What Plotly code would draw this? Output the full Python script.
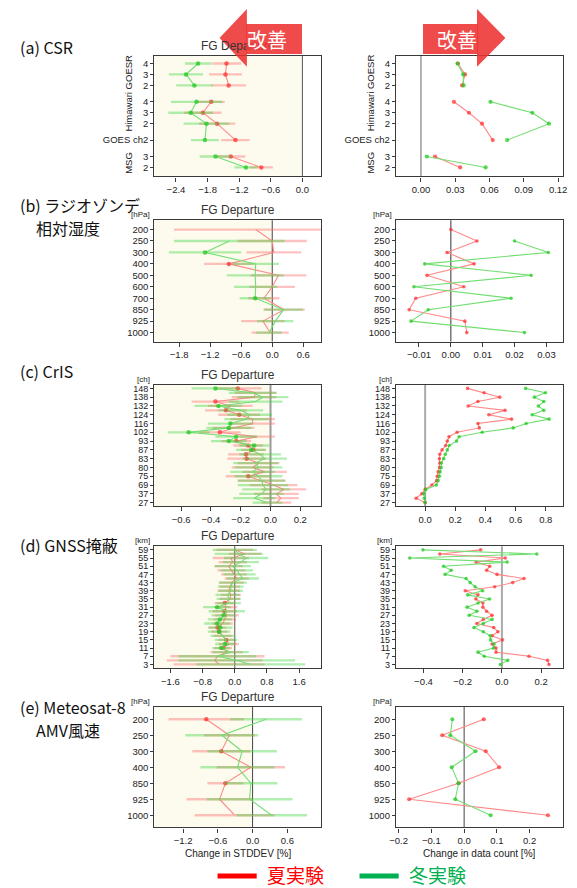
import plotly.graph_objects as go

W, H = 577, 888

# ---------------- data (listed top row to bottom row) ----------------
SUMMER_NAME = "夏実験"
WINTER_NAME = "冬実験"

# (a) CSR
CSR_GROUP = ["GOESR", "GOESR", "GOESR", "Himawari", "Himawari", "Himawari", "GOES", "MSG", "MSG"]
CSR_LABEL = ["4", "3", "2", "4", "3", "2", "GOES ch2", "3", "2"]
CSR_LINE = [0, 0, 0, 1, 1, 1, 1, 2, 2]
CSR_STD_S = [-1.44, -1.46, -1.40, -1.73, -1.89, -1.62, -1.27, -1.36, -0.78]
CSR_ERR_S = [0.28, 0.31, 0.33, 0.255, 0.355, 0.345, 0.27, 0.275, 0.22]
CSR_STD_W = [-1.98, -2.21, -2.05, -2.01, -2.12, -1.82, -1.85, -1.65, -1.07]
CSR_ERR_W = [0.25, 0.325, 0.345, 0.485, 0.425, 0.435, 0.265, 0.30, 0.22]
CSR_SIG_S = [1, 1, 1, 1, 1, 1, 1, 1, 1]
CSR_SIG_W = [1, 1, 1, 1, 1, 1, 1, 1, 1]
CSR_CNT_S = [0.0323, 0.0386, 0.0360, 0.0288, 0.0420, 0.0534, 0.0628, 0.0123, 0.0343]
CSR_CNT_W = [0.0320, 0.0369, 0.0374, 0.0608, 0.0974, 0.1120, 0.0754, 0.0051, 0.0566]

# (b) radiosonde relative humidity
RH_LEVEL = ["200", "250", "300", "400", "500", "600", "700", "850", "925", "1000"]
RH_STD_S = [-0.32, 0.00, 0.03, -0.84, 0.12, 0.00, -0.16, 0.23, -0.18, -0.04]
RH_ERR_S = [1.58, 0.67, 0.53, 0.48, 0.54, 0.44, 0.30, 0.40, 0.42, 0.36]
RH_STD_W = [None, -0.83, -1.30, -0.32, -0.33, -0.32, -0.33, 0.22, 0.06, -0.06]
RH_ERR_W = [0.0, 1.07, 0.70, 0.45, 0.55, 0.42, 0.30, 0.37, 0.35, 0.25]
RH_SIG_S = [0, 0, 0, 1, 0, 0, 0, 0, 0, 0]
RH_SIG_W = [0, 0, 1, 0, 0, 0, 1, 0, 0, 0]
RH_CNT_S = [0.0000, 0.0082, -0.0012, 0.0073, -0.0075, 0.0041, -0.0110, -0.0131, 0.0044, 0.0050]
RH_CNT_W = [None, 0.0200, 0.0306, -0.0082, 0.0252, -0.0116, 0.0189, -0.0071, -0.0125, 0.0231]

# (c) CrIS channels (27 rows, every second one labelled)
CRIS_TICKS = ["148", "138", "132", "124", "116", "102", "93", "87", "83", "80", "75", "69", "37", "27"]
CRIS_STD_S = [-0.22, -0.10, -0.11, -0.37, -0.27, -0.30, -0.21, -0.12, -0.12, -0.25, -0.34, -0.09, -0.23, -0.15,
              -0.115, -0.165, -0.16, -0.08, -0.12, -0.04, -0.15, -0.06, 0.02, 0.09, 0.04, 0.07, 0.04]
CRIS_ERR_S = [0.16, 0.14, 0.15, 0.16, 0.15, 0.14, 0.14, 0.15, 0.15, 0.14, 0.14, 0.12, 0.10, 0.10,
              0.08, 0.12, 0.13, 0.14, 0.14, 0.15, 0.15, 0.16, 0.16, 0.15, 0.15, 0.12, 0.10]
CRIS_STD_W = [-0.37, -0.12, -0.05, -0.10, -0.35, -0.20, -0.14, -0.16, -0.27, -0.28, -0.55, -0.23, -0.28, -0.11,
              -0.13, -0.07, -0.04, -0.10, -0.08, -0.12, -0.08, -0.06, -0.05, -0.03, -0.06, -0.11, -0.02]
CRIS_ERR_W = [0.16, 0.16, 0.17, 0.18, 0.16, 0.15, 0.15, 0.15, 0.15, 0.15, 0.14, 0.14, 0.12, 0.10,
              0.10, 0.14, 0.15, 0.15, 0.16, 0.15, 0.16, 0.16, 0.17, 0.16, 0.15, 0.14, 0.10]
CRIS_SIG_S = [1, 0, 0, 1, 0, 1, 1, 0, 0, 0, 1, 0, 1, 1, 1, 1, 1, 0, 0, 0, 1, 0, 0, 0, 0, 0, 0]
CRIS_SIG_W = [1, 0, 0, 0, 1, 0, 0, 0, 1, 1, 1, 1, 1, 1, 1, 0, 0, 0, 0, 0, 0, 0, 0, 0, 0, 0, 0]
CRIS_CNT_S = [0.281, 0.391, 0.495, 0.350, 0.285, 0.530, 0.422, 0.573, 0.350, 0.359, 0.212, 0.158, 0.147, 0.136,
              0.112, 0.097, 0.095, 0.097, 0.095, 0.086, 0.080, 0.076, 0.045, 0.000, -0.022, -0.060, 0.000]
CRIS_CNT_W = [0.666, 0.798, 0.724, 0.787, 0.750, 0.787, 0.709, 0.822, 0.670, 0.584, 0.378, 0.225, 0.208, 0.160,
              0.147, 0.134, 0.123, 0.108, 0.106, 0.099, 0.095, 0.086, 0.074, 0.004, -0.009, -0.006, 0.000]

# (d) GNSS radio occultation, impact height [km]
GNSS_KM = [str(k) for k in range(59, 2, -2)]
GNSS_STD_S = [0.00, 0.25, -0.10, -0.05, -0.15, -0.08, -0.02, 0.05, -0.08, -0.12, -0.15, -0.10, -0.12, -0.25, -0.22,
              -0.25, -0.20, -0.25, -0.30, -0.43, -0.39, -0.30, -0.21, -0.15, -0.29, -0.20, -0.43, -0.50, -0.39]
GNSS_ERR_S = [0.45, 0.40, 0.45, 0.35, 0.35, 0.35, 0.32, 0.30, 0.30, 0.25, 0.28, 0.25, 0.25, 0.25, 0.28,
              0.30, 0.30, 0.28, 0.25, 0.22, 0.20, 0.22, 0.20, 0.25, 0.22, 0.40, 1.17, 1.19, 1.13]
GNSS_STD_W = [0.00, 0.10, 0.28, 0.15, -0.05, 0.05, 0.12, 0.20, -0.05, -0.10, -0.10, -0.18, -0.15, -0.15, -0.44,
              -0.20, -0.28, -0.37, -0.44, -0.36, -0.39, -0.30, -0.22, -0.24, -0.34, -0.10, -0.43, 0.05, 0.40]
GNSS_ERR_W = [0.55, 0.60, 0.55, 0.45, 0.45, 0.40, 0.40, 0.40, 0.35, 0.32, 0.30, 0.30, 0.30, 0.30, 0.35,
              0.45, 0.30, 0.30, 0.32, 0.30, 0.28, 0.30, 0.28, 0.25, 0.22, 0.45, 0.97, 1.45, 1.35]
GNSS_SIG_S = [0, 0, 0, 0, 0, 0, 0, 0, 0, 0, 0, 0, 0, 1, 0, 1, 0, 0, 0, 1, 1, 0, 1, 0, 1, 0, 0, 0, 0]
GNSS_SIG_W = [0, 0, 0, 0, 0, 0, 0, 0, 0, 0, 0, 0, 0, 0, 1, 0, 1, 1, 1, 1, 1, 0, 0, 1, 1, 0, 0, 0, 0]
GNSS_CNT_S = [-0.108, -0.317, 0.017, -0.132, -0.062, -0.078, -0.025, 0.113, 0.055, -0.037, -0.187, -0.122, -0.133,
              -0.097, -0.097, -0.078, -0.050, -0.095, -0.128, -0.042, -0.020, -0.050, 0.003, -0.050, -0.030, -0.030,
              0.138, 0.233, 0.240]
GNSS_CNT_W = [-0.403, 0.178, -0.470, 0.027, -0.298, -0.258, -0.290, -0.183, -0.162, -0.137, -0.098, -0.175, -0.063,
              -0.122, -0.178, -0.127, -0.167, -0.050, -0.095, -0.143, -0.095, -0.060, -0.058, -0.040, -0.043, -0.122,
              -0.090, 0.030, -0.008]

# (e) Meteosat-8 AMV wind speed
AMV_LEVEL = ["200", "250", "300", "400", "850", "925", "1000"]
AMV_STD_S = [-0.80, -0.40, -0.54, -0.03, -0.47, -0.57, -0.31]
AMV_ERR_S = [0.65, 0.44, 0.50, 0.59, 0.31, 0.57, 0.69]
AMV_STD_W = [0.23, -0.53, -0.18, -0.26, -0.03, -0.05, 0.33]
AMV_ERR_W = [0.62, 0.63, 0.60, 0.64, 0.46, 0.74, 0.61]
AMV_SIG_S = [1, 0, 1, 0, 1, 0, 0]
AMV_SIG_W = [0, 0, 0, 0, 0, 0, 0]
AMV_CNT_S = [0.060, -0.067, 0.066, 0.107, -0.017, -0.168, 0.256]
AMV_CNT_W = [-0.036, -0.042, 0.035, -0.038, -0.017, -0.027, 0.081]

# x-axis ticks for each row
STD_TICKS = [[-2.4, -1.8, -1.2, -0.6, 0.0], [-1.8, -1.2, -0.6, 0.0, 0.6], [-0.6, -0.4, -0.2, 0.0, 0.2],
             [-1.6, -0.8, 0.0, 0.8, 1.6], [-1.2, -0.6, 0.0, 0.6]]
CNT_TICKS = [[0.0, 0.03, 0.06, 0.09, 0.12], [-0.01, 0.0, 0.01, 0.02, 0.03], [0.0, 0.2, 0.4, 0.6, 0.8],
             [-0.4, -0.2, 0.0, 0.2], [-0.2, -0.1, 0.0, 0.1, 0.2]]
CNT_FMT = [".2f", ".2f", ".1f", ".1f", ".1f"]

# ---------------- layout geometry (pixels) ----------------
ROW_FRAME = [(54.7, 176.0), (220.0, 341.7), (385.0, 506.7), (547.0, 669.3), (708.3, 829.3)]
ROW_CENTERS = [(62.7, 167.0), (229.3, 332.7), (388.7, 503.3), (550.7, 665.7), (720.7, 817.0)]
LEFT_X = (150.5, 320.5)
RIGHT_X = (397.3, 567.5)
STD_RANGE = [(-2.81, 0.35), (-2.28, 0.94), (-0.78, 0.338), (-2.0, 2.14), (-1.695, 1.178)]
CNT_RANGE = [(-0.0218, 0.124), (-0.0172, 0.0351), (-0.193, 0.912), (-0.54, 0.31), (-0.208, 0.301)]
ZERO_L = [("#555", 1), ("#444", 1), ("#9a9a9a", 2), ("#555", 1), ("#444", 1)]
ZERO_R = [("#999", 1.5), ("#333", 1), ("#aaa", 2), ("#aaa", 2), ("#444", 1)]
YTICK_SIZE = [9.5, 9.5, 9, 9, 9.5]

RED_LINE, RED_MARK, RED_BAR = "#ff8a8a", "#ff2a2a", "rgba(255,110,110,0.42)"
GRN_LINE, GRN_MARK, GRN_BAR = "#72de72", "#18c818", "rgba(70,215,70,0.42)"
SANS = "Liberation Sans, Arial, sans-serif"
JP_FONT = "Noto Sans CJK JP"


def px(x):
    return x / W


def py(y):
    return 1 - y / H


def axis_names(k):
    suffix = "" if k == 0 else str(k + 1)
    return "x" + suffix, "y" + suffix, "xaxis" + suffix, "yaxis" + suffix


def csr_positions():
    # rows stacked from the bottom, with a wider gap between instrument groups
    pos = [0.0] * len(CSR_GROUP)
    cur = 0.0
    for i in range(len(CSR_GROUP) - 1, -1, -1):
        if i < len(CSR_GROUP) - 1:
            cur += 1.0 if CSR_GROUP[i] == CSR_GROUP[i + 1] else 1.5
        pos[i] = cur
    return pos


fig = go.Figure()
shapes, annotations = [], []


def add_series(k, pos, vals, err, sig, colors, seg=None, marker_size=None):
    line_c, mark_c, bar_c = colors
    xa, ya, _, _ = axis_names(k)
    n = len(vals)
    seg = seg if seg is not None else [0] * n
    order = []
    for s in seg:
        if s not in order:
            order.append(s)
    for s in order:
        idx = [i for i in range(n) if seg[i] == s]
        if marker_size is not None:
            sizes = [marker_size] * len(idx)
        else:
            sizes = [4.5 if sig[i] else 0 for i in idx]
        tr = dict(
            x=[vals[i] for i in idx], y=[pos[i] for i in idx], mode="lines+markers",
            line=dict(color=line_c, width=1.1),
            marker=dict(size=sizes, color=mark_c, line=dict(width=0)),
            xaxis=xa, yaxis=ya, showlegend=False, hoverinfo="skip",
        )
        if err is not None:
            tr["error_x"] = dict(type="data", array=[err[i] for i in idx], color=bar_c,
                                 thickness=2.3, width=0)
        fig.add_trace(go.Scatter(**tr))


def setup_axes(k, xdom, ydom_px, xrange, xticks, xfmt, yrange, ytickvals, yticktext, ysize):
    _, _, xk, yk = axis_names(k)
    xa, ya, _, _ = axis_names(k)
    common = dict(showgrid=False, zeroline=False, showline=True, mirror=True,
                  linecolor="#3a3a3a", linewidth=1.4, ticks="outside", tickcolor="#3a3a3a",
                  fixedrange=True)
    fig.layout[xk] = dict(domain=[px(xdom[0]), px(xdom[1])], range=list(xrange), anchor=ya,
                          tickmode="array", tickvals=xticks, tickformat=xfmt, ticklen=4,
                          tickfont=dict(family=SANS, size=9.5, color="#222"), **common)
    fig.layout[yk] = dict(domain=[py(ydom_px[1]), py(ydom_px[0])], range=list(yrange), anchor=xa,
                          tickmode="array", tickvals=ytickvals, ticktext=yticktext, ticklen=3,
                          tickfont=dict(family=SANS, size=ysize, color="#222"), **common)


def y_range(frame, centers, vtop, vbot):
    unit = (centers[1] - centers[0]) / (vtop - vbot)
    return (vbot - (frame[1] - centers[1]) / unit, vtop + (centers[0] - frame[0]) / unit)


ROWS = [
    dict(pos=csr_positions(), labels=CSR_LABEL, ticks=None, seg=CSR_LINE, unit=None,
         std=(CSR_STD_S, CSR_ERR_S, CSR_SIG_S, CSR_STD_W, CSR_ERR_W, CSR_SIG_W),
         cnt=(CSR_CNT_S, CSR_CNT_W)),
    dict(pos=None, labels=RH_LEVEL, ticks=None, seg=None, unit="[hPa]",
         std=(RH_STD_S, RH_ERR_S, RH_SIG_S, RH_STD_W, RH_ERR_W, RH_SIG_W),
         cnt=(RH_CNT_S, RH_CNT_W)),
    dict(pos=None, labels=None, ticks=CRIS_TICKS, seg=None, unit="[ch]",
         std=(CRIS_STD_S, CRIS_ERR_S, CRIS_SIG_S, CRIS_STD_W, CRIS_ERR_W, CRIS_SIG_W),
         cnt=(CRIS_CNT_S, CRIS_CNT_W)),
    dict(pos=None, labels=GNSS_KM, ticks="every2", seg=None, unit="[km]",
         std=(GNSS_STD_S, GNSS_ERR_S, GNSS_SIG_S, GNSS_STD_W, GNSS_ERR_W, GNSS_SIG_W),
         cnt=(GNSS_CNT_S, GNSS_CNT_W)),
    dict(pos=None, labels=AMV_LEVEL, ticks=None, seg=None, unit="[hPa]",
         std=(AMV_STD_S, AMV_ERR_S, AMV_SIG_S, AMV_STD_W, AMV_ERR_W, AMV_SIG_W),
         cnt=(AMV_CNT_S, AMV_CNT_W)),
]

for r, row in enumerate(ROWS):
    n = len(row["std"][0])
    pos = row["pos"] if row["pos"] is not None else [n - 1 - i for i in range(n)]
    if row["ticks"] is None:
        tv, tt = pos, row["labels"]
    elif row["ticks"] == "every2":
        tv = [pos[i] for i in range(0, n, 2)]
        tt = [row["labels"][i] for i in range(0, n, 2)]
    else:
        tv = [pos[i] for i in range(0, n, 2)]
        tt = row["ticks"]
    yr = y_range(ROW_FRAME[r], ROW_CENTERS[r], max(pos), min(pos))
    kl, kr = 2 * r, 2 * r + 1

    # left: change in STDDEV of first-guess departures
    setup_axes(kl, LEFT_X, ROW_FRAME[r], STD_RANGE[r], STD_TICKS[r], ".1f", yr, tv, tt, YTICK_SIZE[r])
    xa, ya, _, _ = axis_names(kl)
    shapes.append(dict(type="rect", xref=xa, yref=ya + " domain", x0=STD_RANGE[r][0], x1=0, y0=0, y1=1,
                       fillcolor="#fcfbee", line=dict(width=0), layer="below"))
    shapes.append(dict(type="line", xref=xa, yref=ya + " domain", x0=0, x1=0, y0=0, y1=1,
                       line=dict(color=ZERO_L[r][0], width=ZERO_L[r][1]), layer="below"))
    s_v, s_e, s_s, w_v, w_e, w_s = row["std"]
    add_series(kl, pos, s_v, s_e, s_s, (RED_LINE, RED_MARK, RED_BAR), row["seg"])
    add_series(kl, pos, w_v, w_e, w_s, (GRN_LINE, GRN_MARK, GRN_BAR), row["seg"])

    # right: change in data count
    setup_axes(kr, RIGHT_X, ROW_FRAME[r], CNT_RANGE[r], CNT_TICKS[r], CNT_FMT[r], yr, tv, tt, YTICK_SIZE[r])
    xa2, ya2, _, _ = axis_names(kr)
    shapes.append(dict(type="line", xref=xa2, yref=ya2 + " domain", x0=0, x1=0, y0=0, y1=1,
                       line=dict(color=ZERO_R[r][0], width=ZERO_R[r][1]), layer="below"))
    msize = 4.2 if r in (0, 4) else 3.6
    add_series(kr, pos, row["cnt"][0], None, None, (RED_LINE, RED_MARK, RED_BAR), row["seg"], msize)
    add_series(kr, pos, row["cnt"][1], None, None, (GRN_LINE, GRN_MARK, GRN_BAR), row["seg"], msize)

    top = ROW_FRAME[r][0]
    annotations.append(dict(text="FG Departure", x=px(sum(LEFT_X) / 2), y=py(top - 10), xref="paper",
                            yref="paper", showarrow=False, xanchor="center", yanchor="middle",
                            font=dict(family=SANS, size=12, color="#333")))
    if row["unit"]:
        for xl in (LEFT_X[0], RIGHT_X[0]):
            annotations.append(dict(text=row["unit"], x=px(xl - 2), y=py(top + 1), xref="paper", yref="paper",
                                    showarrow=False, xanchor="right", yanchor="bottom",
                                    font=dict(family=SANS, size=8, color="#222")))

# rotated instrument names beside the CSR rows
for xl in (LEFT_X[0], RIGHT_X[0]):
    for txt, yc in (("Himawari GOESR", 92.5), ("MSG", 162.0)):
        annotations.append(dict(text=txt, x=px(xl - 26.5), y=py(yc), xref="paper", yref="paper",
                                showarrow=False, textangle=-90, xanchor="center", yanchor="middle",
                                font=dict(family=SANS, size=9.5, color="#222")))

# x-axis titles under the bottom row
for txt, xc in (("Change in STDDEV [%]", sum(LEFT_X) / 2), ("Change in data count [%]", sum(RIGHT_X) / 2)):
    annotations.append(dict(text=txt, x=px(xc), y=py(855), xref="paper", yref="paper", showarrow=False,
                            xanchor="center", yanchor="middle", font=dict(family=SANS, size=10, color="#222")))

# panel titles
PANEL_TITLES = [("(a) CSR", 11, 46), ("(b) ラジオゾンデ", 11, 205), ("相対湿度", 28, 228), ("(c) CrIS", 11, 371),
                ("(d) GNSS掩蔽", 11, 546), ("(e) Meteosat-8", 11, 708), ("AMV風速", 28, 731)]
for txt, xl, yc in PANEL_TITLES:
    annotations.append(dict(text=txt, x=px(xl), y=py(yc), xref="paper", yref="paper", showarrow=False,
                            xanchor="left", yanchor="middle", font=dict(family=JP_FONT, size=16, color="#111")))

# legend
for name, color, x0 in ((SUMMER_NAME, "#ff0000", 215), (WINTER_NAME, "#00b050", 360)):
    shapes.append(dict(type="line", xref="paper", yref="paper", x0=px(x0), x1=px(x0 + 40), y0=py(878),
                       y1=py(878), line=dict(color=color, width=5)))
    annotations.append(dict(text=name, x=px(x0 + 48), y=py(876), xref="paper", yref="paper", showarrow=False,
                            xanchor="left", yanchor="middle", font=dict(family=JP_FONT, size=19, color=color)))

# "改善" arrows: heads as shapes, shafts as boxes drawn over the panel title
ARROW = "rgba(238,50,50,0.88)"
HEAD_TOP, HEAD_BOT, SHAFT_TOP, SHAFT_BOT = 8.0, 66.0, 22.7, 52.7
mid = (HEAD_TOP + HEAD_BOT) / 2


def path(points):
    return "M " + " L ".join(f"{px(a):.5f},{py(b):.5f}" for a, b in points) + " Z"


shapes.append(dict(type="path", xref="paper", yref="paper", layer="above", fillcolor=ARROW, line=dict(width=0),
                   path=path([(217, mid), (245, HEAD_TOP), (245, HEAD_BOT)])))
shapes.append(dict(type="path", xref="paper", yref="paper", layer="above", fillcolor=ARROW, line=dict(width=0),
                   path=path([(509, mid), (480, HEAD_TOP), (480, HEAD_BOT)])))
for x0, x1 in ((245, 301), (425, 480)):
    annotations.append(dict(text=" ", x=px((x0 + x1) / 2), y=py((SHAFT_TOP + SHAFT_BOT) / 2), xref="paper",
                            yref="paper", showarrow=False, xanchor="center", yanchor="middle",
                            width=x1 - x0, height=SHAFT_BOT - SHAFT_TOP, bgcolor=ARROW, borderpad=0,
                            borderwidth=0))
for xc in (266, 460):
    annotations.append(dict(text="改善", x=px(xc), y=py(39), xref="paper", yref="paper", showarrow=False,
                            xanchor="center", yanchor="middle", font=dict(family=JP_FONT, size=20, color="white")))

fig.update_layout(width=W, height=H, autosize=False, margin=dict(l=0, r=0, t=0, b=0),
                  paper_bgcolor="white", plot_bgcolor="white", showlegend=False,
                  shapes=shapes, annotations=annotations)

fig.write_html("out.html")
